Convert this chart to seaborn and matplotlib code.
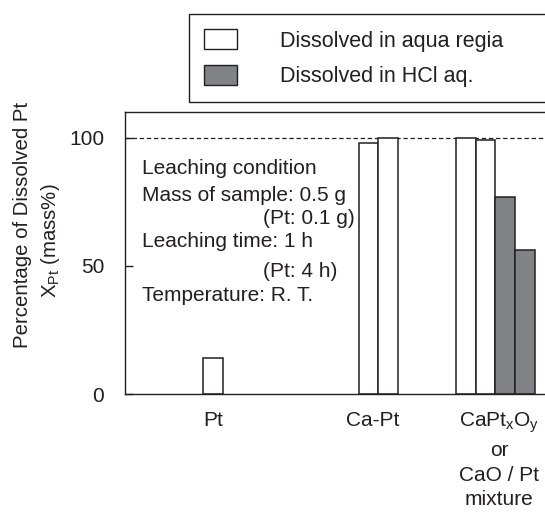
import pandas as pd
import seaborn as sns
import matplotlib.pyplot as plt
from matplotlib.patches import Patch

# data
samples = ["Pt", "Ca-Pt", "Ca-Pt", "CaPtxOy", "CaPtxOy", "CaPtxOy", "CaPtxOy"]
solvents = ["aqua regia", "aqua regia", "aqua regia", "aqua regia", "aqua regia", "HCl aq.", "HCl aq."]
dissolved = [14, 98, 100, 100, 99, 77, 56]

group_order = ["Pt", "Ca-Pt", "CaPtxOy"]
group_labels = ["Pt", "Ca-Pt", "CaPt$_\\mathrm{x}$O$_\\mathrm{y}$\nor\nCaO / Pt\nmixture"]
legend_labels = ["Dissolved in aqua regia", "Dissolved in HCl aq."]
condition_lines = ["Leaching condition", "Mass of sample: 0.5 g", "(Pt: 0.1 g)",
                   "Leaching time: 1 h", "(Pt: 4 h)", "Temperature: R. T."]

# layout
group_centers = {"Pt": 4.5, "Ca-Pt": 13.0, "CaPtxOy": 19.0}
label_x = [4.5, 12.7, 19.2]
ink = "#231f20"
colors = {"aqua regia": "white", "HCl aq.": "#808285"}

sns.set_style("ticks")
plt.rcParams["font.family"] = ["Liberation Sans", "DejaVu Sans"]
plt.rcParams["mathtext.fontset"] = "custom"
plt.rcParams["mathtext.rm"] = "Liberation Sans"
plt.rcParams["mathtext.it"] = "Liberation Sans:italic"
plt.rcParams["text.color"] = ink

df = pd.DataFrame({"sample": samples, "solvent": solvents, "value": dissolved})
n = df.groupby("sample")["sample"].transform("size")
k = df.groupby("sample").cumcount()
df["pos"] = df["sample"].map(group_centers) + k - (n - 1) / 2

fig = plt.figure(figsize=(5.45, 5.12), dpi=100)
ax = fig.add_axes([125 / 545, 1 - 394 / 512, 1 - 125 / 545, (394 - 112) / 512])

sns.barplot(data=df, x="pos", y="value", hue="solvent", palette=colors,
            native_scale=True, dodge=False, width=1, saturation=1,
            edgecolor=ink, linewidth=1.1, errorbar=None, legend=False, ax=ax)

ax.axhline(100, color=ink, lw=0.9, ls=(0, (3.5, 2.2)), zorder=0.5)

ax.set_xlim(0, (545 - 125) / 19.5)
ax.set_ylim(0, 110)
ax.set_xticks(label_x)
ax.set_xticklabels(group_labels, fontsize=15, linespacing=1.38, color=ink)
ax.set_yticks([0, 50, 100])
ax.set_yticklabels(["0", "50", "100"], fontsize=15, color=ink)
ax.tick_params(axis="x", length=0, pad=12)
ax.tick_params(axis="y", direction="in", length=6, width=1, color=ink, pad=15)
ax.set_xlabel("")
ax.set_ylabel("")
for side in ["left", "bottom", "top"]:
    ax.spines[side].set_color(ink)
    ax.spines[side].set_linewidth(1.0)
ax.spines["right"].set_visible(False)

# leaching condition note
cond_x = [0.86, 0.86, 7.08, 0.86, 7.08, 0.86]
cond_y = [87.9, 77.4, 68.4, 59.6, 47.7, 38.4]
for tx, ty, line in zip(cond_x, cond_y, condition_lines):
    ax.text(tx, ty, line, fontsize=15, ha="left", va="center", color=ink)

fig.text(23 / 545, 1 - 225 / 512, "Percentage of Dissolved Pt", rotation=90,
         ha="center", va="center", fontsize=14.7)
fig.text(51 / 545, 1 - 241 / 512, "X$_\\mathrm{Pt}$ (mass%)", rotation=90,
         ha="center", va="center", fontsize=14.7)

handles = [Patch(facecolor=colors["aqua regia"], edgecolor=ink, linewidth=1.0),
           Patch(facecolor=colors["HCl aq."], edgecolor=ink, linewidth=1.0)]
leg = fig.legend(handles, legend_labels, loc="lower left",
                 bbox_to_anchor=(189 / 545, 1 - 102 / 512, 1.0, 88 / 512),
                 mode="expand", borderaxespad=0, fontsize=15.5,
                 handlelength=1.55, handleheight=1.05, handletextpad=2.0,
                 labelspacing=0.6, borderpad=0.7, fancybox=False,
                 framealpha=1, edgecolor=ink)
leg.get_frame().set_linewidth(1.0)

fig.savefig("out.png", dpi=100)
